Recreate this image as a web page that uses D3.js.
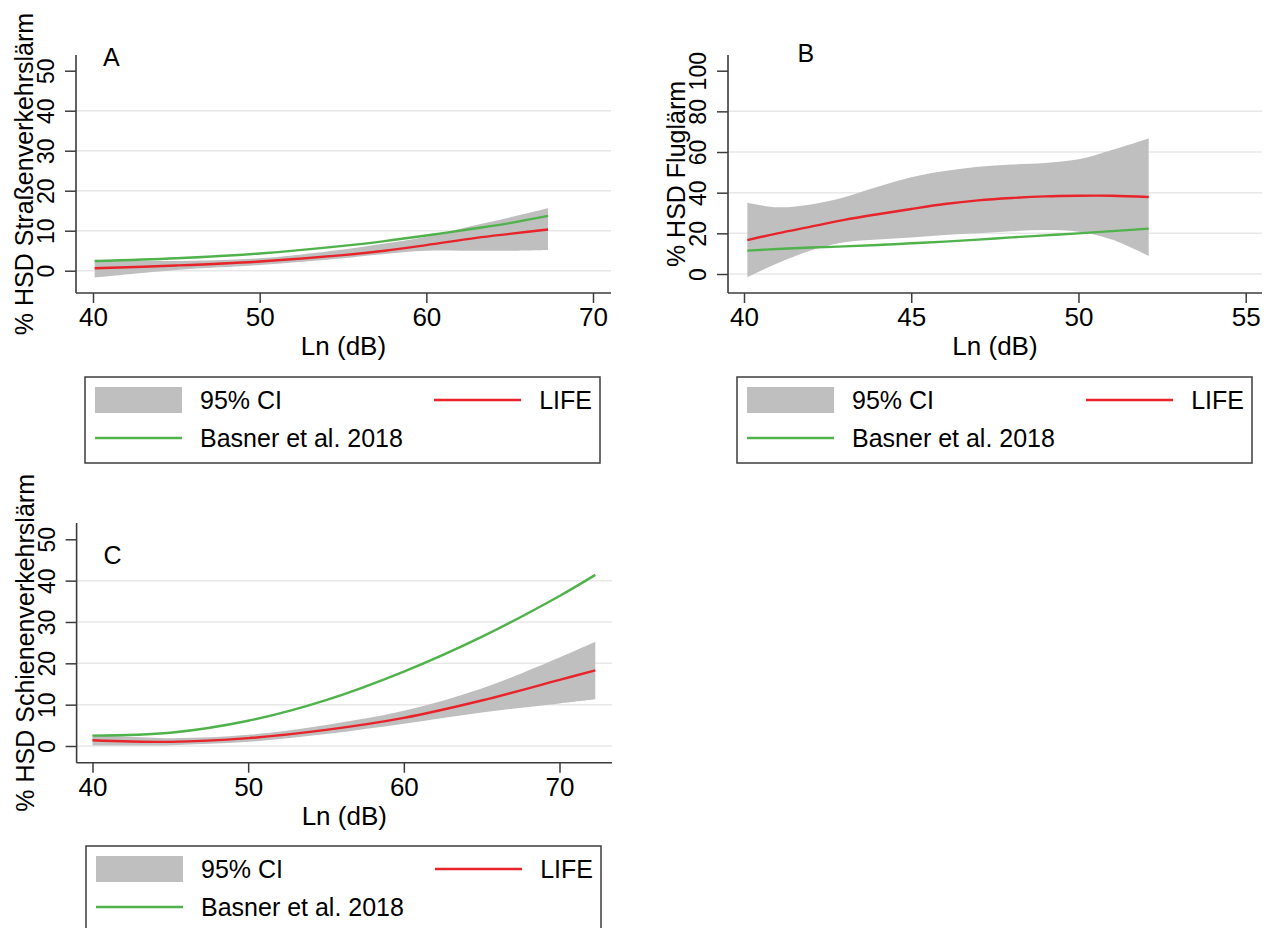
<!DOCTYPE html>
<html>
<head>
<meta charset="utf-8">
<script src="https://cdn.jsdelivr.net/npm/d3@7/dist/d3.min.js"></script>
<style>
  html, body { margin: 0; padding: 0; background: #fff; }
  svg { display: block; }
  text { font-family: 'Liberation Sans', Arial, sans-serif; fill: #000; }
</style>
</head>
<body>
<script>
// ---- Panel A: road traffic noise ----
const roadLn    = [40.1, 45, 50, 55, 57.5, 60, 63, 65, 67.3];
const roadLife  = [0.6, 1.3, 2.3, 3.9, 5.0, 6.4, 8.2, 9.2, 10.3];
const roadLow   = [-1.7, 0.2, 1.4, 3.1, 4.2, 5.0, 5.0, 5.0, 5.2];
const roadHigh  = [2.8, 2.4, 3.1, 5.3, 6.8, 8.5, 11.4, 13.3, 15.6];
const roadBasner = [2.4, 3.1, 4.3, 6.2, 7.4, 8.8, 10.6, 11.9, 13.7];

// ---- Panel B: aircraft noise ----
const airLn     = [40.1, 41, 42, 43, 44, 45, 46, 47, 48, 49, 50, 51, 52.1];
const airLife   = [16.7, 20.0, 23.3, 26.6, 29.4, 32.0, 34.4, 36.2, 37.4, 38.2, 38.5, 38.5, 37.9];
const airLow    = [-1.6, 5.3, 11.5, 15.6, 17.0, 18.0, 19.2, 20.0, 21.0, 21.6, 20.8, 17.0, 8.9];
const airHigh   = [35.1, 32.8, 34.2, 37.8, 42.9, 47.6, 50.7, 52.8, 53.9, 54.6, 56.4, 61.0, 66.7];
const airBasner = [11.5, 12.3, 13.0, 13.6, 14.3, 15.1, 15.9, 16.9, 18.0, 19.0, 20.0, 21.1, 22.3];

// ---- Panel C: railway noise ----
const railLn     = [40, 45, 50, 55, 60, 65, 70, 72.3];
const railLife   = [1.4, 1.0, 1.9, 3.9, 6.8, 11.0, 16.0, 18.3];
const railLow    = [0.1, 0.2, 1.0, 2.9, 5.4, 8.1, 10.3, 11.3];
const railHigh   = [2.8, 1.9, 2.7, 5.1, 8.5, 13.9, 21.4, 25.2];
const railBasner = [2.5, 3.2, 6.1, 11.1, 18.0, 26.4, 36.3, 41.4];

// Axis ticks
const xTicksAC = [40, 50, 60, 70];
const xTicksB  = [40, 45, 50, 55];
const yTicksAC = [0, 10, 20, 30, 40, 50];
const yTicksB  = [0, 20, 40, 60, 80, 100];

// Legend entries
const legendLabels = { ci: "95% CI", life: "LIFE", basner: "Basner et al. 2018" };
const xTitle = "Ln (dB)";

const COLORS = { band: "#bfbfbf", life: "#e8232a", basner: "#4fb24a", axis: "#3c3c3c", grid: "#e8e8e8" };

const W = 1272, H = 928;
const svg = d3.select("body").append("svg").attr("width", W).attr("height", H);

function drawPanel(p) {
  const g = svg.append("g");
  const x = d3.scaleLinear().domain(p.xDomain).range(p.xRange);
  const y = d3.scaleLinear().domain(p.yDomain).range(p.yRange);

  // horizontal grid lines (all ticks except the top one)
  g.selectAll("line.grid").data(p.yTicks.slice(0, -1)).join("line")
    .attr("x1", p.left).attr("x2", p.right)
    .attr("y1", d => y(d)).attr("y2", d => y(d))
    .attr("stroke", COLORS.grid).attr("stroke-width", 1.5);

  // confidence band and fitted curves
  const rows = p.ln.map((v, i) => ({ x: v, lo: p.low[i], hi: p.high[i], life: p.life[i], basner: p.basner[i] }));
  const curve = d3.curveCatmullRom.alpha(0.5);
  g.append("path").datum(rows)
    .attr("d", d3.area().curve(curve).x(d => x(d.x)).y0(d => y(d.lo)).y1(d => y(d.hi)))
    .attr("fill", COLORS.band);

  g.append("path").datum(rows)
    .attr("d", d3.line().curve(curve).x(d => x(d.x)).y(d => y(d.basner)))
    .attr("fill", "none").attr("stroke", COLORS.basner).attr("stroke-width", 2.4);

  g.append("path").datum(rows)
    .attr("d", d3.line().curve(curve).x(d => x(d.x)).y(d => y(d.life)))
    .attr("fill", "none").attr("stroke", COLORS.life).attr("stroke-width", 2.4);

  // y axis
  const yAx = g.append("g").attr("transform", `translate(${p.left},0)`)
    .call(d3.axisLeft(y).tickValues(p.yTicks).tickSize(11).tickFormat(d3.format("d")));
  yAx.select(".domain").remove();
  yAx.selectAll(".tick line").attr("stroke", COLORS.axis).attr("stroke-width", 1.5);
  yAx.selectAll(".tick text")
    .attr("x", null).attr("dy", null)
    .attr("transform", "translate(-22,0) rotate(-90)")
    .attr("text-anchor", "middle")
    .style("font-size", "23px");

  // x axis
  const xAx = g.append("g").attr("transform", `translate(0,${p.bottom})`)
    .call(d3.axisBottom(x).tickValues(p.xTicks).tickSize(10).tickPadding(5).tickFormat(d3.format("d")));
  xAx.select(".domain").remove();
  xAx.selectAll(".tick line").attr("stroke", COLORS.axis).attr("stroke-width", 1.5);
  xAx.selectAll(".tick text").style("font-size", "26px");

  // axis lines
  g.append("line").attr("x1", p.left).attr("x2", p.left).attr("y1", p.top).attr("y2", p.bottom)
    .attr("stroke", COLORS.axis).attr("stroke-width", 1.6);
  g.append("line").attr("x1", p.left).attr("x2", p.right).attr("y1", p.bottom).attr("y2", p.bottom)
    .attr("stroke", COLORS.axis).attr("stroke-width", 1.6);

  // axis titles
  g.append("text")
    .attr("transform", `translate(${p.left - 43},${(p.top + p.bottom) / 2}) rotate(-90)`)
    .attr("text-anchor", "middle").style("font-size", "25px").text(p.yTitle);
  g.append("text")
    .attr("x", (p.left + p.right) / 2).attr("y", p.bottom + 62)
    .attr("text-anchor", "middle").style("font-size", "26px").text(xTitle);

  // panel letter
  g.append("text").attr("x", x(p.tag.x)).attr("y", y(p.tag.y))
    .style("font-size", "25px").text(p.tag.label);

  // legend
  const L = g.append("g").attr("transform", `translate(${p.legend[0]},${p.legend[1]})`);
  L.append("rect").attr("x", 0).attr("y", 0).attr("width", 515).attr("height", 86)
    .attr("fill", "#fff").attr("stroke", COLORS.axis).attr("stroke-width", 1.5);
  L.append("rect").attr("x", 10).attr("y", 10).attr("width", 87).attr("height", 26)
    .attr("fill", COLORS.band);
  L.append("text").attr("x", 115).attr("y", 32).style("font-size", "25px").text(legendLabels.ci);
  L.append("line").attr("x1", 349).attr("x2", 436).attr("y1", 23).attr("y2", 23)
    .attr("stroke", COLORS.life).attr("stroke-width", 2.4);
  L.append("text").attr("x", 507).attr("y", 32).attr("text-anchor", "end")
    .style("font-size", "25px").text(legendLabels.life);
  L.append("line").attr("x1", 10).attr("x2", 97).attr("y1", 61).attr("y2", 61)
    .attr("stroke", COLORS.basner).attr("stroke-width", 2.4);
  L.append("text").attr("x", 115).attr("y", 70).style("font-size", "25px").text(legendLabels.basner);
}

drawPanel({
  ln: roadLn, life: roadLife, low: roadLow, high: roadHigh, basner: roadBasner,
  xDomain: [40, 70], xRange: [93, 593], yDomain: [0, 50], yRange: [270.7, 70.7],
  left: 76, right: 611, top: 55, bottom: 293,
  xTicks: xTicksAC, yTicks: yTicksAC,
  yTitle: "% HSD Straßenverkehrslärm",
  tag: { label: "A", x: 40.6, y: 51.2 },
  legend: [85, 377]
});

drawPanel({
  ln: airLn, life: airLife, low: airLow, high: airHigh, basner: airBasner,
  xDomain: [40, 55], xRange: [744, 1245.7], yDomain: [0, 100], yRange: [274, 70.7],
  left: 728, right: 1262, top: 55, bottom: 293,
  xTicks: xTicksB, yTicks: yTicksB,
  yTitle: "% HSD Fluglärm",
  tag: { label: "B", x: 41.6, y: 104.5 },
  legend: [737, 377]
});

drawPanel({
  ln: railLn, life: railLife, low: railLow, high: railHigh, basner: railBasner,
  xDomain: [40, 70], xRange: [92.5, 559.5], yDomain: [0, 50], yRange: [746, 539.3],
  left: 76.6, right: 612, top: 523, bottom: 762.7,
  xTicks: xTicksAC, yTicks: yTicksAC,
  yTitle: "% HSD Schienenverkehrslärm",
  tag: { label: "C", x: 40.7, y: 44 },
  legend: [86, 846]
});
</script>
</body>
</html>
